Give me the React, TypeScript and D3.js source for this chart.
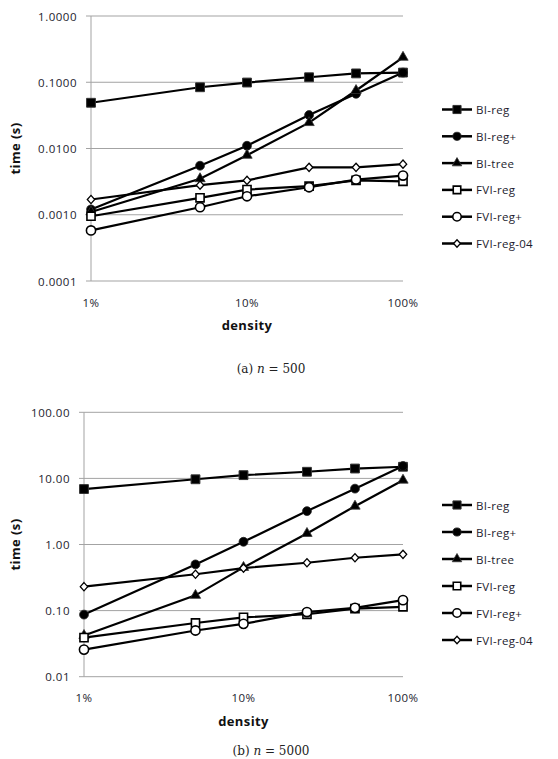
import * as React from "react";
import * as d3 from "d3";

// density (%) on the x axis
const densities = [1, 5, 10, 25, 50, 100];
const seriesNames = ["BI-reg", "BI-reg+", "BI-tree", "FVI-reg", "FVI-reg+", "FVI-reg-04"];

// run times (s), n = 500
const biRegA = [0.049, 0.084, 0.099, 0.119, 0.136, 0.14];
const biRegPlusA = [0.0012, 0.0055, 0.011, 0.032, 0.067, 0.14];
const biTreeA = [0.0011, 0.0035, 0.0079, 0.0246, 0.075, 0.238];
const fviRegA = [0.00095, 0.0018, 0.0024, 0.0027, 0.0033, 0.0032];
const fviRegPlusA = [0.00058, 0.0013, 0.0019, 0.0026, 0.0034, 0.0039];
const fviReg04A = [0.0017, 0.0028, 0.0033, 0.0052, 0.0052, 0.0058];

// run times (s), n = 5000
const biRegB = [6.9, 9.7, 11.2, 12.6, 14.1, 15];
const biRegPlusB = [0.087, 0.5, 1.1, 3.2, 7.0, 15.4];
const biTreeB = [0.042, 0.17, 0.45, 1.47, 3.8, 9.4];
const fviRegB = [0.039, 0.065, 0.079, 0.088, 0.107, 0.114];
const fviRegPlusB = [0.0257, 0.05, 0.063, 0.095, 0.11, 0.144];
const fviReg04B = [0.23, 0.355, 0.44, 0.53, 0.63, 0.71];

const xTickLabels = ["1%", "10%", "100%"];
const xTickValues = [1, 10, 100];
const yTicksA = [0.0001, 0.001, 0.01, 0.1, 1];
const yTicksB = [0.01, 0.1, 1, 10, 100];

const FONT = "'Open Sans', 'DejaVu Sans', sans-serif";
const TEXT = "#1c1c2e";

// diamond a bit wider than d3's built-in one
const wideDiamond = {
  draw(ctx: any, size: number) {
    const h = Math.sqrt(size) / 2;
    const w = h * 0.9;
    ctx.moveTo(0, -h);
    ctx.lineTo(w, 0);
    ctx.lineTo(0, h);
    ctx.lineTo(-w, 0);
    ctx.closePath();
  },
};

type MarkerStyle = { type: any; size: number; fill: string; stroke: string; sw: number };

const markers: MarkerStyle[] = [
  { type: d3.symbolSquare, size: 78, fill: "#000", stroke: "#333", sw: 1 },
  { type: d3.symbolCircle, size: 62, fill: "#000", stroke: "#222", sw: 0.8 },
  { type: d3.symbolTriangle, size: 46, fill: "#000", stroke: "#333", sw: 0.8 },
  { type: d3.symbolSquare, size: 66, fill: "#fff", stroke: "#000", sw: 1.6 },
  { type: d3.symbolCircle, size: 66, fill: "#fff", stroke: "#000", sw: 1.6 },
  { type: wideDiamond, size: 68, fill: "#fff", stroke: "#000", sw: 1.3 },
];

type PanelProps = {
  series: number[][];
  yTicks: number[];
  digits: number;
  left: number;
  right: number;
  top: number;
  bottom: number;
  legendX: number;
  legendY: number;
  legendStep: number;
  caption: string;
  captionY: number;
};

const Panel = (p: PanelProps) => {
  const x = d3.scaleLog().domain([1, 100]).range([p.left, p.right]);
  const y = d3
    .scaleLog()
    .domain([p.yTicks[0], p.yTicks[p.yTicks.length - 1]])
    .range([p.bottom, p.top]);

  const line = d3
    .line<number>()
    .x((_, i) => x(densities[i]))
    .y((d) => y(d));

  const sym = (m: MarkerStyle, size?: number) =>
    d3.symbol().type(m.type).size(size ?? m.size)() as string;

  const midY = (p.top + p.bottom) / 2;
  const midX = x(10);

  return (
    <g>
      {/* grid + y ticks */}
      {p.yTicks.map((t) => (
        <g key={t}>
          <line x1={p.left - 5} x2={p.right} y1={y(t)} y2={y(t)} stroke="#a3a3a3" strokeWidth={1} />
          <text
            x={p.left - 14}
            y={y(t)}
            textAnchor="end"
            dominantBaseline="central"
            fontFamily={FONT}
            fontSize={11.5}
            letterSpacing={0.5}
            fill={TEXT}
          >
            {t.toFixed(p.digits)}
          </text>
        </g>
      ))}
      <line x1={p.left} x2={p.left} y1={p.top} y2={p.bottom} stroke="#a3a3a3" strokeWidth={1} />
      {xTickValues.map((t, i) => (
        <text
          key={t}
          x={x(t)}
          y={p.bottom + 21}
          textAnchor="middle"
          dominantBaseline="central"
          fontFamily={FONT}
          fontSize={11.5}
          letterSpacing={0.5}
          fill={TEXT}
        >
          {xTickLabels[i]}
        </text>
      ))}
      <text
        x={midX}
        y={p.bottom + 44}
        textAnchor="middle"
        dominantBaseline="central"
        fontFamily={FONT}
        fontSize={13}
        fontWeight="bold"
        letterSpacing={0.4}
        fill="#111"
      >
        density
      </text>
      <text
        transform={`translate(15,${midY}) rotate(-90)`}
        textAnchor="middle"
        dominantBaseline="central"
        fontFamily={FONT}
        fontSize={13}
        fontWeight="bold"
        letterSpacing={0.4}
        fill="#111"
      >
        time (s)
      </text>

      {/* series */}
      {p.series.map((vals, si) => (
        <g key={si}>
          <path d={line(vals) as string} fill="none" stroke="#000" strokeWidth={2.2} />
          {vals.map((v, i) => (
            <path
              key={i}
              d={sym(markers[si])}
              transform={`translate(${x(densities[i])},${y(v)})`}
              fill={markers[si].fill}
              stroke={markers[si].stroke}
              strokeWidth={markers[si].sw}
            />
          ))}
        </g>
      ))}

      {/* legend */}
      {seriesNames.map((name, si) => {
        const ly = p.legendY + si * p.legendStep;
        const m = markers[si];
        return (
          <g key={name}>
            <line x1={p.legendX} x2={p.legendX + 30} y1={ly} y2={ly} stroke="#000" strokeWidth={2.5} />
            <path
              d={sym(m, m.size * 0.85)}
              transform={`translate(${p.legendX + 15},${ly})`}
              fill={m.fill}
              stroke={m.stroke}
              strokeWidth={m.sw}
            />
            <text
              x={p.legendX + 34}
              y={ly}
              dominantBaseline="central"
              fontFamily={FONT}
              fontSize={11.5}
              letterSpacing={0.3}
              fill={TEXT}
            >
              {name}
            </text>
          </g>
        );
      })}

      <text
        x={271}
        y={p.captionY}
        textAnchor="middle"
        fontFamily="'DejaVu Serif', 'Liberation Serif', serif"
        fontSize={12}
        fill="#222"
      >
        {p.caption.split("n").map((part, i) =>
          i === 0 ? (
            <tspan key={i}>{part}</tspan>
          ) : (
            <React.Fragment key={i}>
              <tspan fontStyle="italic">n</tspan>
              <tspan>{part}</tspan>
            </React.Fragment>
          )
        )}
      </text>
    </g>
  );
};

export default function App() {
  return (
    <svg
      width={558}
      height={759}
      style={{ position: "absolute", left: 0, top: 0, background: "#fff" }}
    >
      <rect width={558} height={759} fill="#fff" />
      <Panel
        series={[biRegA, biRegPlusA, biTreeA, fviRegA, fviRegPlusA, fviReg04A]}
        yTicks={yTicksA}
        digits={4}
        left={91}
        right={403}
        top={16}
        bottom={281}
        legendX={442}
        legendY={109.5}
        legendStep={26.8}
        caption="(a) n = 500"
        captionY={372.5}
      />
      <Panel
        series={[biRegB, biRegPlusB, biTreeB, fviRegB, fviRegPlusB, fviReg04B]}
        yTicks={yTicksB}
        digits={2}
        left={84}
        right={403}
        top={412.3}
        bottom={676.7}
        legendX={442}
        legendY={505}
        legendStep={27}
        caption="(b) n = 5000"
        captionY={755}
      />
    </svg>
  );
}
